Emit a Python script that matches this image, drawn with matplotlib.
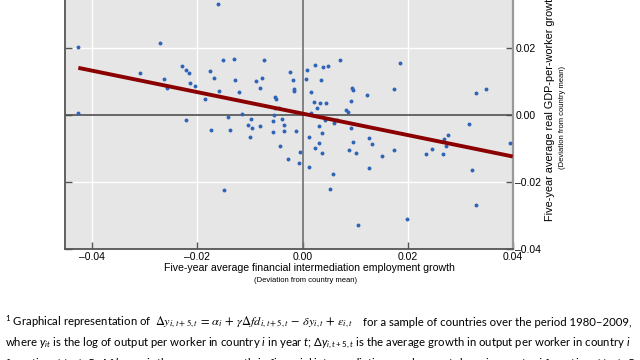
import matplotlib
matplotlib.use("Agg")
import matplotlib.pyplot as plt
import numpy as np

# ---- data ----
fin_emp_growth = [
    -0.04266, -0.04266, -0.01617, -0.0272, -0.03087, -0.02637, -0.02574, -0.0230, -0.02212, -0.02168,
    -0.02136, -0.02041, -0.02212, -0.01851, -0.01769, -0.01693, -0.01585, -0.01521, -0.01312, -0.01293,
    -0.01204, -0.0175, -0.01382, -0.01414, -0.0116, -0.01502, -0.01046, -0.00989, -0.00963, -0.01008,
    -0.00881, -0.0078, -0.00742, -0.00805, -0.00811, -0.00532, -0.00513, -0.00526, -0.0045, -0.00539,
    -0.00558, -0.00393, -0.00349, -0.00558, -0.00349, -0.00437, -0.00285, -0.00235, -0.00177, -0.00171,
    -0.00171, -0.00127, -0.00051, -0.0007, 0.00076, 0.0007, 0.00235, 0.00393, 0.00494, 0.00704,
    0.00349, 0.00165, 0.00216, 0.00336, 0.00444, 0.00279, 0.00158, 0.00425, 0.00317, 0.00368,
    0.00114, 0.00241, 0.00311, 0.00368, 0.00114, 0.00596, 0.00647, 0.00583, 0.00526, 0.00938,
    0.0097, 0.00926, 0.00837, 0.00868, 0.00919, 0.00964, 0.00887, 0.01014, 0.01059, 0.01223,
    0.01274, 0.01325, 0.01261, 0.01509, 0.0175, 0.01851, 0.01743, 0.01984, 0.02352, 0.0246,
    0.02675, 0.02694, 0.02726, 0.02764, 0.03163, 0.0322, 0.03296, 0.03309, 0.03487, 0.03943,
]
gdp_growth = [
    0.0204, 0.0006, 0.0333, 0.0215, 0.01274, 0.01085, 0.00806, 0.01483, 0.01363, 0.01274,
    0.00965, 0.00876, -0.00139, 0.00478, 0.01313, 0.01124, 0.00726, 0.01652, 0.01692, 0.01065,
    0.00706, -0.00438, -0.00448, -0.0005, 0.0003, -0.02229, -0.00289, -0.00109, -0.00388, -0.00637,
    0.01035, 0.01124, 0.01662, 0.00826, -0.00318, 0.00547, 0.00478, 0.00229, 0.00209, 0.0,
    -0.00169, -0.001, -0.00279, -0.00488, -0.00478, -0.00905, -0.01294, 0.01284, 0.01065, 0.00796,
    0.00726, -0.00478, -0.01084, -0.01423, 0.01353, 0.01085, 0.01502, 0.01443, 0.01463, 0.01642,
    0.01045, 0.00687, 0.00408, 0.00368, 0.00358, 0.00219, 0.0007, -0.00129, -0.00318, -0.00537,
    -0.00647, -0.00965, -0.00836, -0.01134, -0.01542, -0.00239, -0.00139, -0.01751, -0.02209, 0.00806,
    0.00746, 0.00418, 0.00169, 0.001, -0.00368, -0.00786, -0.01035, -0.01124, -0.03264, 0.00607,
    -0.00677, -0.00846, -0.01582, -0.01214, 0.00776, 0.01562, -0.01045, -0.03085, -0.01164, -0.01005,
    -0.01164, -0.00716, -0.00905, -0.00587, -0.00249, -0.01632, -0.02666, 0.00677, 0.00776, -0.00816,
]
fit_slope = -0.32
fit_intercept = 0.0005
x_ticks = [-0.04, -0.02, 0.00, 0.02, 0.04]
y_ticks = [-0.04, -0.02, 0.00, 0.02]

plt.rcParams['mathtext.fontset'] = 'custom'
plt.rcParams['mathtext.rm'] = 'Lato'
plt.rcParams['mathtext.it'] = 'Lato:italic'
plt.rcParams['mathtext.bf'] = 'Lato:bold'

fig = plt.figure(figsize=(6.4, 3.6), dpi=100)
ax = fig.add_axes([65/640, 1-249.3/360, (512.7-65)/640, 249.3/360])
ax.set_facecolor('#e6e6e6')
ax.set_xlim(-0.0452, 0.04)
ax.set_ylim(-0.04, 0.0344)

for xv in x_ticks:
    if xv != 0:
        ax.axvline(xv, color='white', lw=1.0, zorder=1)
for yv in y_ticks:
    if yv != 0:
        ax.axhline(yv, color='white', lw=1.0, zorder=1)
ax.axvline(0, color='#707070', lw=1.2, zorder=2)
ax.axhline(0, color='#505050', lw=1.2, zorder=2)

ax.scatter(fin_emp_growth, gdp_growth, s=8, color='#2f65b8', zorder=3, linewidths=0)
xl = np.array([min(fin_emp_growth), 0.04])
ax.plot(xl, fit_intercept + fit_slope * xl, color='#8b0000', lw=2.8, zorder=4, solid_capstyle='butt')

ax.set_xticks(x_ticks)
ax.set_xticklabels([f"{v:.2f}".replace('-', '\u2013') for v in x_ticks], fontsize=7.5, family='Liberation Sans')
ax.set_yticks(y_ticks)
ax.yaxis.tick_right()
ax.set_yticklabels([f"{v:.2f}".replace('-', '\u2013') for v in y_ticks], fontsize=7.5, family='Liberation Sans')
ax.tick_params(axis='both', direction='in', length=5, color='#555555', width=1.0, pad=2)
ax.tick_params(axis='y', left=True, right=True, labelleft=False, labelright=True)

ax.spines['top'].set_visible(False)
ax.spines['left'].set_color('#555555')
ax.spines['left'].set_linewidth(1.3)
ax.spines['bottom'].set_color('#555555')
ax.spines['bottom'].set_linewidth(1.3)
ax.spines['right'].set_color('#999999')
ax.spines['right'].set_linewidth(1.6)

# axis titles
fig.text(309/640, 1-268/360, "Five-year average financial intermediation employment growth",
         ha='center', va='center', fontsize=7.6, family='Liberation Sans')
fig.text(306/640, 1-281/360, "(Deviation from country mean)",
         ha='center', va='center', fontsize=5.5, family='Liberation Sans')
fig.text(550/640, 1-107/360, "Five-year average real GDP-per-worker growth",
         ha='center', va='center', rotation=90, fontsize=7.8, family='Liberation Sans')
fig.text(563/640, 1-118/360, "(Deviation from country mean)",
         ha='center', va='center', rotation=90, fontsize=5.5, family='Liberation Sans')

# footnote
fs = 8.2
fig.text(5/640, 1-322/360, "$^1$ Graphical representation of", ha='left', va='center',
         fontsize=fs, family='Lato')
fig.text(155/640, 1-322/360,
         r"$\Delta y_{i,t+5,t}\,=\,\alpha_i\,+\,\gamma\Delta fd_{i,t+5,t}\,-\,\delta y_{i,t}\,+\,\varepsilon_{i,t}$",
         ha='left', va='center', fontsize=8.9, math_fontfamily='stix')
fig.text(632/640, 1-322/360, "for a sample of countries over the period 1980\u20132009,", ha='right', va='center',
         fontsize=fs, family='Lato')
fig.text(5/640, 1-343/360,
         r"where $y_{it}$ is the log of output per worker in country $i$ in year $t$; $\Delta y_{i,t+5,t}$ is the average growth in output per worker in country $i$",
         ha='left', va='center', fontsize=fs, family='Lato')
fig.text(5/640, 1-364/360,
         r"from time $t$ to $t$+5; $\Delta fd_{i,t+5,t}$ is the average growth in financial intermediation employment share in country $i$ from time $t$ to $t$+5;",
         ha='left', va='center', fontsize=fs, family='Lato')

fig.savefig('out.png', dpi=100)
